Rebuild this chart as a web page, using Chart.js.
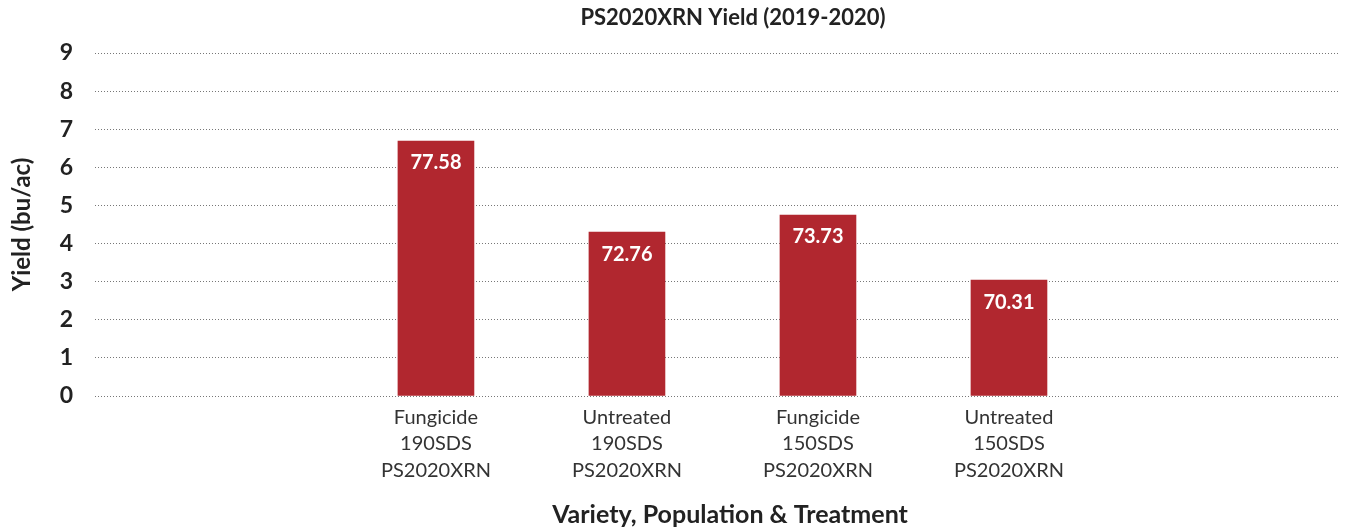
<!DOCTYPE html>
<html>
<head>
<meta charset="utf-8">
<script src="https://cdn.jsdelivr.net/npm/chart.js@4/dist/chart.umd.min.js"></script>
<style>
  html, body { margin: 0; padding: 0; background: #fff; }
  #wrap { width: 1356px; height: 531px; }
</style>
</head>
<body>
<div id="wrap"><canvas id="mychart"></canvas></div>
<script>
const categories = [
    ['Fungicide', '190SDS', 'PS2020XRN'],
    ['Untreated', '190SDS', 'PS2020XRN'],
    ['Fungicide', '150SDS', 'PS2020XRN'],
    ['Untreated', '150SDS', 'PS2020XRN']
];
const barHeights = [6.69, 4.3, 4.75, 3.04];
const yieldLabels = ['77.58', '72.76', '73.73', '70.31'];
const yTicks = [0, 1, 2, 3, 4, 5, 6, 7, 8, 9];
const chartTitle = 'PS2020XRN Yield (2019-2020)';
const xTitle = 'Variety, Population & Treatment';

const FONT = 'Lato, "Noto Sans", sans-serif';

// white value text inside the top of each bar, plus the two titles
// (the titles sit a little right of centre in the original)
const valueLabels = {
    id: 'valueLabels',
    afterDatasetsDraw(chart) {
        const ctx = chart.ctx;
        const meta = chart.getDatasetMeta(0);
        ctx.save();
        ctx.fillStyle = '#fff';
        ctx.font = 'bold 20px ' + FONT;
        ctx.textAlign = 'center';
        ctx.textBaseline = 'middle';
        meta.data.forEach((bar, i) => {
            ctx.fillText(yieldLabels[i], bar.x, bar.y + 22);
        });
        ctx.fillStyle = '#222';
        ctx.font = 'bold 22px ' + FONT;
        ctx.fillText(chartTitle, 733, 18);
        ctx.font = 'bold 25px ' + FONT;
        ctx.fillText(xTitle, 730, 515);
        ctx.restore();
    }
};

const ctx = document.getElementById('mychart').getContext('2d');
let myChart = new Chart(ctx, {
    type: 'bar',
    data: {
        datasets: [
            {
                label: 'Yield',
                data: barHeights.map((v, i) => ({ x: i, y: v })),
                backgroundColor: '#B1272F',
                barThickness: 76,
                borderWidth: 0
            }
        ]
    },
    options: {
        responsive: true,
        maintainAspectRatio: false,
        animation: false,
        layout: { padding: { left: 0, right: 16, top: 53, bottom: 0 } },
        plugins: {
            legend: { display: false },
            tooltip: { enabled: false },
            title: { display: false }
        },
        scales: {
            x: {
                type: 'linear',
                offset: false,
                min: -1.785,
                max: 4.733,
                afterBuildTicks: s => { s.ticks = categories.map((c, i) => ({ value: i })); },
                afterFit: s => { s.height = 135; },
                grid: { display: false },
                border: { display: false },
                ticks: {
                    autoSkip: false,
                    maxRotation: 0,
                    color: '#333',
                    padding: 0,
                    font: { family: FONT, size: 20, lineHeight: 1.33 },
                    callback: v => categories[v]
                }
            },
            y: {
                min: 0,
                max: 9,
                afterBuildTicks: s => { s.ticks = yTicks.map(v => ({ value: v })); },
                afterFit: s => { s.width = 95; },
                grid: { color: '#777', lineWidth: 1, drawTicks: false },
                border: { display: false, dash: [1, 2] },
                ticks: {
                    color: '#222',
                    padding: 22,
                    font: { family: FONT, size: 23, weight: 'bold' }
                },
                title: {
                    display: true,
                    text: 'Yield (bu/ac)',
                    color: '#222',
                    font: { family: FONT, size: 24, weight: 'bold' },
                    padding: { top: 8, bottom: 10 }
                }
            }
        }
    },
    plugins: [valueLabels]
});
</script>
</body>
</html>
